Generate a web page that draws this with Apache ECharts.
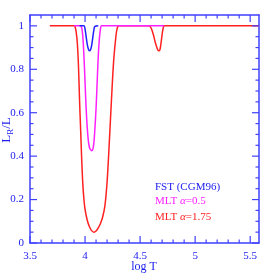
<!DOCTYPE html>
<html><head><meta charset="utf-8">
<script src="https://cdn.jsdelivr.net/npm/echarts@6/dist/echarts.min.js"></script>
<style>html,body{margin:0;padding:0;background:#fff}#c{width:274px;height:274px}</style>
</head><body><div id="c"></div>
<script>
// Data
const redX  = [3.68,3.90,3.91,3.92,3.93,3.94,3.95,3.96,3.97,3.98,3.99,4.00,4.02,4.04,4.06,4.08,4.10,4.12,4.14,4.16,4.18,4.20,4.22,4.24,4.26,4.28,4.29,4.30,4.31,4.58,4.60,4.62,4.64,4.66,4.67,4.68,4.69,4.70,4.71,4.72,5.58];
const redY  = [1,1,0.995,0.97,0.92,0.82,0.66,0.52,0.38,0.27,0.20,0.155,0.105,0.075,0.057,0.05,0.055,0.07,0.09,0.12,0.17,0.28,0.46,0.66,0.84,0.95,0.985,0.998,1,1,0.99,0.96,0.92,0.89,0.885,0.89,0.92,0.96,0.99,1,1];
const magX  = [3.90,3.96,3.97,3.98,3.99,4.00,4.01,4.02,4.03,4.04,4.05,4.06,4.07,4.08,4.09,4.10,4.11,4.12,4.13,4.14,4.15,4.72];
const magY  = [1,1,0.99,0.95,0.86,0.74,0.62,0.53,0.47,0.44,0.43,0.425,0.43,0.46,0.53,0.62,0.74,0.86,0.94,0.985,1,1];
const blueX = [3.95,3.99,4.00,4.01,4.02,4.03,4.04,4.05,4.06,4.07,4.08,4.09,4.12];
const blueY = [1,1,0.985,0.95,0.915,0.893,0.885,0.89,0.91,0.945,0.98,0.998,1];
const xTicks = ['3.5','4','4.5','5','5.5'];
const yTicks = ['0','0.2','0.4','0.6','0.8','1'];
const xMajor = [3.5, 4, 4.5, 5, 5.5];
const xMinor = [3.6,3.7,3.8,3.9,4.1,4.2,4.3,4.4,4.6,4.7,4.8,4.9,5.1,5.2,5.3,5.4];
const yMajor = [0, 0.2, 0.4, 0.6, 0.8, 1];
const yMinor = [0.05,0.1,0.15,0.25,0.3,0.35,0.45,0.5,0.55,0.65,0.7,0.75,0.85,0.9,0.95];
const legendLines = ['FST (CGM96)','MLT α=0.5','MLT α=1.75'];

const zip = (xs, ys) => xs.map((x, i) => [x, ys[i]]);
const AX = '#4040ff', TX = '#2020ee', FONT = 'Liberation Serif';
const X0 = 3.5, X1 = 5.58, Y0 = 0, Y1 = 1.05;
const G = {left: 30, right: 15, top: 15, bottom: 31};
const MAJ = 7, MIN = 3.5; // tick lengths in pixels

function xa(pos, labels) {
  return {
    type: 'value', min: X0, max: X1, interval: 0.5, position: pos,
    axisLine: {show: true, onZero: false, lineStyle: {color: AX, width: 1.5}},
    axisTick: {show: false},
    axisLabel: labels ? {show: true, color: TX, fontFamily: FONT, fontSize: 11, margin: 8, showMaxLabel: false,
      formatter: v => { const s = String(+v.toFixed(2)); return xTicks.includes(s) ? s : ''; }} : {show: false},
    splitLine: {show: false}
  };
}
function ya(pos, labels) {
  return {
    type: 'value', min: Y0, max: Y1, interval: 0.2, position: pos,
    axisLine: {show: true, onZero: false, lineStyle: {color: AX, width: 1.5}},
    axisTick: {show: false},
    axisLabel: labels ? {show: true, color: TX, fontFamily: FONT, fontSize: 11, margin: 6, showMaxLabel: false,
      formatter: v => { const s = String(+v.toFixed(2)); return yTicks.includes(s) ? s : ''; }} : {show: false},
    splitLine: {show: false}
  };
}

const textGraphics = [
  {type: 'text', x: 7, y: 130, rotation: Math.PI / 2,
    style: {text: '{a|L}{b|R}{a|/L}', align: 'center', verticalAlign: 'middle',
      rich: {a: {fontFamily: FONT, fontSize: 13, fill: TX},
             b: {fontFamily: FONT, fontSize: 9, fill: TX, padding: [8, 0, 0, 0]}}}},
  {type: 'text', x: 144, y: 267,
    style: {text: 'log T', fill: TX, font: '12px "Liberation Serif"', align: 'center', verticalAlign: 'middle'}},
  {type: 'text', x: 155, y: 187,
    style: {text: legendLines[0], fill: '#2020ee', font: '11px "Liberation Serif"', verticalAlign: 'middle'}},
  {type: 'text', x: 155, y: 201,
    style: {text: '{n|MLT }{g|α}{n|=0.5}', verticalAlign: 'middle',
      rich: {n: {fontFamily: FONT, fontSize: 11, fill: '#ff20ff'}, g: {fontFamily: FONT, fontSize: 11, fontStyle: 'italic', fill: '#ff20ff'}}}},
  {type: 'text', x: 155, y: 217,
    style: {text: '{n|MLT }{g|α}{n|=1.75}', verticalAlign: 'middle',
      rich: {n: {fontFamily: FONT, fontSize: 11, fill: '#ff2020'}, g: {fontFamily: FONT, fontSize: 11, fontStyle: 'italic', fill: '#ff2020'}}}}
];

const chart = echarts.init(document.getElementById('c'), null, {renderer: 'canvas'});
const lineS = (data, color, z) => ({
  type: 'line', data, showSymbol: false, symbol: 'none',
  smooth: 0.35, lineStyle: {color, width: 1.5}, z
});
chart.setOption({
  animation: false,
  grid: G,
  xAxis: [xa('bottom', true), xa('top', false)],
  yAxis: [ya('left', true), ya('right', false)],
  series: [
    lineS(zip(redX, redY), '#ff2020', 2),
    lineS(zip(magX, magY), '#ff20ff', 3),
    lineS(zip(blueX, blueY), '#2020ff', 4)
  ],
  graphic: textGraphics
});

// Tick marks placed through the chart's own scales
const toPx = p => chart.convertToPixel({gridIndex: 0}, p);
const tickStyle = {stroke: AX, lineWidth: 1.2};
const ticks = [];
const addX = (v, L) => {
  const b = toPx([v, Y0]), t = toPx([v, Y1]);
  ticks.push({type: 'line', z: 100, shape: {x1: b[0], y1: b[1], x2: b[0], y2: b[1] - L}, style: tickStyle});
  ticks.push({type: 'line', z: 100, shape: {x1: t[0], y1: t[1], x2: t[0], y2: t[1] + L}, style: tickStyle});
};
const addY = (v, L) => {
  const l = toPx([X0, v]), r = toPx([X1, v]);
  ticks.push({type: 'line', z: 100, shape: {x1: l[0], y1: l[1], x2: l[0] + L, y2: l[1]}, style: tickStyle});
  ticks.push({type: 'line', z: 100, shape: {x1: r[0], y1: r[1], x2: r[0] - L, y2: r[1]}, style: tickStyle});
};
xMajor.forEach(v => addX(v, MAJ)); xMinor.forEach(v => addX(v, MIN));
yMajor.forEach(v => addY(v, MAJ)); yMinor.forEach(v => addY(v, MIN));
chart.setOption({graphic: textGraphics.concat(ticks)});
</script>
</body></html>
